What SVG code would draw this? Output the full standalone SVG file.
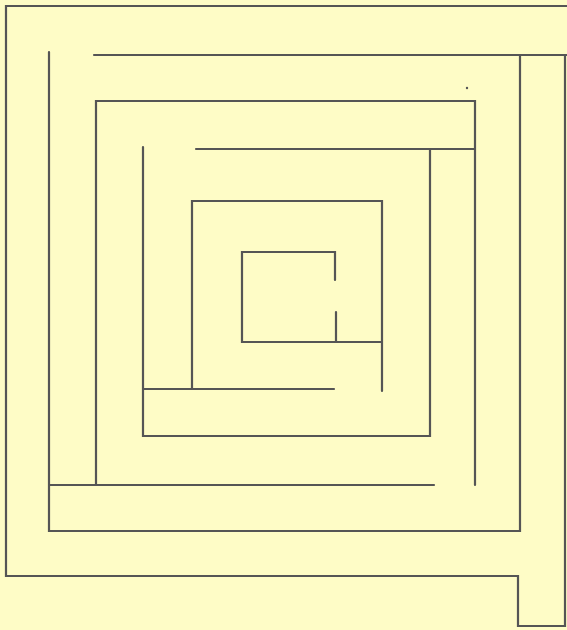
<svg xmlns="http://www.w3.org/2000/svg" width="567" height="630" viewBox="0 0 567 630">
<style>
.w{fill:none;stroke:#555;stroke-width:2.2;stroke-linecap:round;stroke-linejoin:miter}
</style>
<rect width="567" height="630" fill="#fefcc6"/>
<g id="maze" class="w">
<path d="M567,6 H6 V576 H518 V626 H565 V56"/>
<path d="M94,55 H567"/>
<path d="M520,56 V531 H49 V52"/>
<path d="M50,485 H434"/>
<path d="M96,484 V101 H475 V485"/>
<path d="M196,149 H474"/>
<path d="M430,150 V436 H143 V147"/>
<path d="M143,389 H334"/>
<path d="M192,389 V201 H382 V391"/>
<path d="M335,280 V252 H242 V342 H381"/>
<path d="M336,312 V342"/>
</g>
<circle cx="467" cy="88" r="1.2" fill="#555"/>
</svg>
